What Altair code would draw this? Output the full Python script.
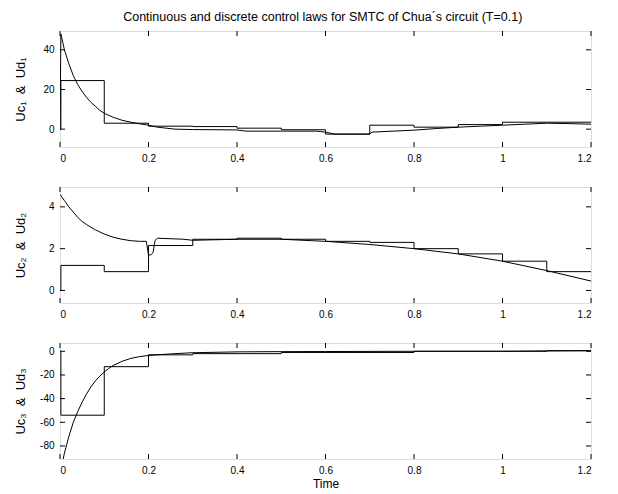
import altair as alt
import pandas as pd

# ---------------- data ----------------
title_text = "Continuous and discrete control laws for SMTC of Chua\u00b4s circuit (T=0.1)"
x_ticks = [0, 0.2, 0.4, 0.6, 0.8, 1.0, 1.2]

# panel 1
t1c = [0, 0.002, 0.01, 0.02, 0.03, 0.04, 0.05, 0.06, 0.07, 0.08, 0.09, 0.1, 0.12, 0.14,
       0.16, 0.18, 0.2, 0.22, 0.26, 0.3, 0.4, 0.42, 0.5, 0.58, 0.6, 0.62, 0.7, 0.705,
       0.8, 0.85, 0.9, 0.95, 1.0, 1.05, 1.1, 1.15, 1.2]
u1c = [0, 48, 40, 33, 27, 22.5, 19, 16, 13.5, 11.5, 9.5, 8, 6, 4.5,
       3.5, 2.7, 2, 1, 0, -0.2, -0.4, -1, -1, -1, -1.5, -2.5, -2.5, -1.5,
       -0.5, 0.3, 1, 1.5, 2, 2.5, 3, 2.8, 2.5]
t1d = [0, 0.002, 0.1, 0.2, 0.3, 0.4, 0.5, 0.6, 0.7, 0.8, 0.9, 1.0, 1.1, 1.2]
u1d = [0, 24.5, 3, 1.5, 1.3, 0.5, -0.3, -2.5, 2, 1, 2.3, 3.5, 3.5, 3.5]
y1_ticks = [0, 20, 40]

# panel 2
t2c = [0, 0.01, 0.02, 0.03, 0.04, 0.05, 0.06, 0.08, 0.1, 0.12, 0.14, 0.16, 0.18, 0.195,
       0.2, 0.205, 0.21, 0.215, 0.22, 0.28, 0.3, 0.4, 0.5, 0.6, 0.7, 0.8, 0.9, 1.0, 1.1, 1.2]
u2c = [4.6, 4.3, 4.0, 3.75, 3.5, 3.3, 3.15, 2.9, 2.7, 2.55, 2.45, 2.38, 2.35, 2.35,
       1.7, 1.7, 1.8, 2.4, 2.5, 2.45, 2.4, 2.45, 2.45, 2.35, 2.2, 2.0, 1.75, 1.4, 0.95, 0.45]
t2d = [0, 0.002, 0.1, 0.2, 0.3, 0.4, 0.5, 0.6, 0.7, 0.8, 0.9, 1.0, 1.1, 1.2]
u2d = [0, 1.2, 0.9, 2.15, 2.45, 2.5, 2.45, 2.35, 2.3, 2.0, 1.75, 1.4, 0.9, 0.9]
y2_ticks = [0, 2, 4]

# panel 3
t3c = [0.005, 0.01, 0.02, 0.03, 0.04, 0.05, 0.06, 0.07, 0.08, 0.09, 0.1, 0.11, 0.12,
       0.14, 0.16, 0.18, 0.2, 0.25, 0.3, 0.4, 0.5, 0.6, 0.8, 1.0, 1.1, 1.2]
u3c = [-95, -86, -72, -60, -51, -43, -36, -30, -25, -21, -17.5, -14.5, -12,
       -8.5, -6, -4.5, -3.5, -2.2, -1.2, -0.5, -0.3, -0.2, 0, 0, 0.3, 0.5]
t3d = [0, 0.002, 0.1, 0.2, 0.3, 0.5, 0.8, 1.1, 1.2]
u3d = [0, -54, -13, -3, -2, -1, 0, 0.5, 0.5]
y3_ticks = [0, -20, -40, -60, -80]

W, H = 531, 116
FONT = "Liberation Sans"
TICK = 5
YLABEL = "datum.value < 0 ? '-' + format(-datum.value, '~r') : format(datum.value, '~r')"


def panel(tc, uc, td, ud, yticks, ydom, ytitle, xtitle=None):
    dfc = pd.DataFrame({"t": tc, "u": uc})
    dfd = pd.DataFrame({"t": td, "u": ud})
    xs = alt.Scale(domain=[0, 1.2], nice=False, zero=False)
    ys = alt.Scale(domain=ydom, nice=False, zero=False)
    xkw = dict(values=x_ticks, format="~g", ticks=False, domain=False, grid=False,
               labelPadding=6, titlePadding=3, titleFontWeight="normal", titleFontSize=12,
               labelOverlap=False)
    if xtitle:
        xax = alt.Axis(title=xtitle, **xkw)
    else:
        xax = alt.Axis(title=None, **xkw)
    yax = alt.Axis(values=yticks, labelExpr=YLABEL, ticks=False, domain=False, grid=False,
                   labelPadding=6, title=ytitle, titleFontWeight="normal",
                   titleFontSize=13, titleX=-33, titleBaseline="bottom",
                   labelOverlap=False)
    cont = alt.Chart(dfc).mark_line(color="black", strokeWidth=1, clip=True).encode(
        x=alt.X("t:Q", scale=xs, axis=xax),
        y=alt.Y("u:Q", scale=ys, axis=yax),
    )
    disc = alt.Chart(dfd).mark_line(color="black", strokeWidth=1, clip=True,
                                    interpolate="step-after").encode(
        x=alt.X("t:Q", scale=xs, axis=xax),
        y=alt.Y("u:Q", scale=ys, axis=yax),
    )
    dxt = pd.DataFrame({"t": x_ticks})
    dyt = pd.DataFrame({"u": yticks})
    xt_top = alt.Chart(dxt).mark_rule(color="black", strokeWidth=1).encode(
        x=alt.X("t:Q", scale=xs, axis=xax), y=alt.value(0), y2=alt.value(TICK))
    xt_bot = alt.Chart(dxt).mark_rule(color="black", strokeWidth=1).encode(
        x=alt.X("t:Q", scale=xs, axis=xax), y=alt.value(H - TICK), y2=alt.value(H))
    yt_l = alt.Chart(dyt).mark_rule(color="black", strokeWidth=1).encode(
        y=alt.Y("u:Q", scale=ys, axis=yax), x=alt.value(0), x2=alt.value(TICK))
    yt_r = alt.Chart(dyt).mark_rule(color="black", strokeWidth=1).encode(
        y=alt.Y("u:Q", scale=ys, axis=yax), x=alt.value(W - TICK), x2=alt.value(W))
    return alt.layer(cont, disc, xt_top, xt_bot, yt_l, yt_r).properties(width=W, height=H)


p1 = panel(t1c, u1c, t1d, u1d, y1_ticks, [-9, 49.5], "Uc\u2081\u00a0 &\u00a0 Ud\u2081")
p2 = panel(t2c, u2c, t2d, u2d, y2_ticks, [-0.6, 4.95], "Uc\u2082\u00a0 &\u00a0 Ud\u2082")
p3 = panel(t3c, u3c, t3d, u3d, y3_ticks, [-91, 7], "Uc\u2083\u00a0 &\u00a0 Ud\u2083",
           xtitle="Time")

chart = alt.vconcat(p1, p2, p3, spacing=22).properties(
    title=alt.TitleParams(title_text, fontSize=12.5, fontWeight="normal", font=FONT,
                          anchor="middle", offset=7, color="black", dx=20),
    padding={"left": 5, "top": 2, "right": 0, "bottom": 0},
).configure_view(stroke="black", strokeWidth=1).configure_axis(
    labelFont=FONT, titleFont=FONT, labelFontSize=12, titleFontSize=12,
    labelColor="black", titleColor="black",
).configure(background="white")

chart.save("out.html", embed_options={"renderer": "svg", "actions": False})
